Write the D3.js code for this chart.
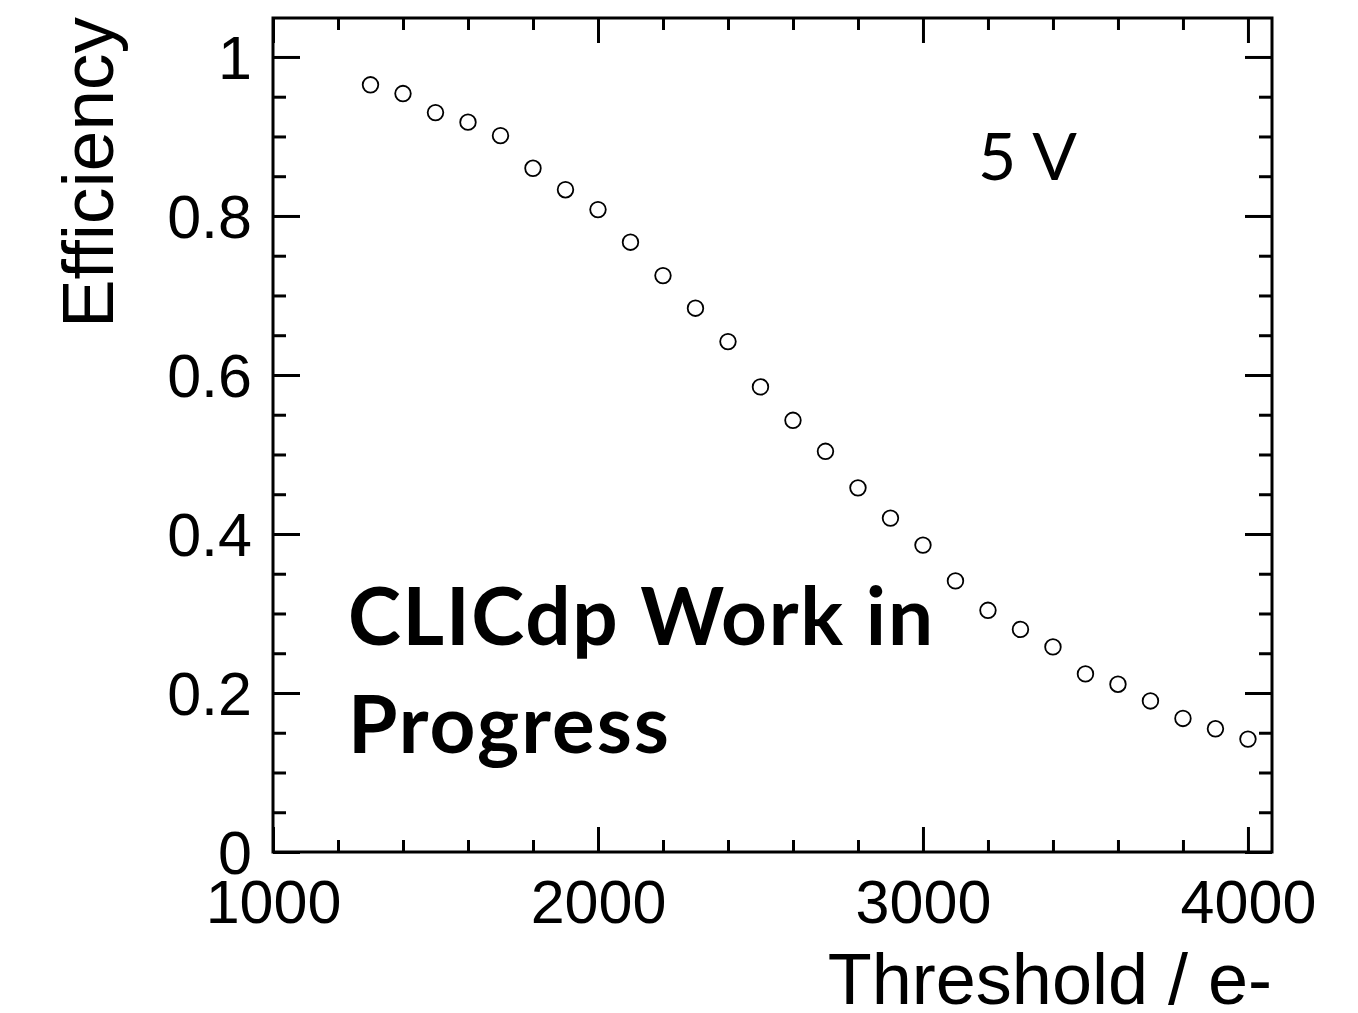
<!DOCTYPE html>
<html>
<head>
<meta charset="utf-8">
<script src="https://cdn.jsdelivr.net/npm/d3@7"></script>
<style>
  html, body { margin: 0; padding: 0; background: #fff; }
  svg { display: block; }
</style>
</head>
<body>
<svg id="chart" width="1358" height="1013"></svg>
<script>
// Threshold scan at 5 V bias: efficiency vs. threshold
const thresholds = [1300, 1400, 1500, 1600, 1700, 1800, 1900, 2000, 2100, 2200,
                    2300, 2400, 2500, 2600, 2700, 2800, 2900, 3000, 3100, 3200,
                    3300, 3400, 3500, 3600, 3700, 3800, 3900, 4000];
const efficiency = [0.965, 0.954, 0.930, 0.918, 0.901, 0.860, 0.833, 0.808, 0.767, 0.725,
                    0.684, 0.642, 0.585, 0.543, 0.504, 0.458, 0.420, 0.386, 0.341, 0.304,
                    0.280, 0.258, 0.224, 0.211, 0.190, 0.168, 0.155, 0.142];

const xMajorTicks = [1000, 2000, 3000, 4000];
const xMinorTicks = [1200, 1400, 1600, 1800, 2200, 2400, 2600, 2800, 3200, 3400, 3600, 3800];
const yMajorTicks = [0, 0.2, 0.4, 0.6, 0.8, 1];
const yTickLabels = ["0", "0.2", "0.4", "0.6", "0.8", "1"];
const yMinorTicks = [0.05, 0.1, 0.15, 0.25, 0.3, 0.35, 0.45, 0.5, 0.55, 0.65, 0.7, 0.75, 0.85, 0.9, 0.95];

const xTitle = "Threshold / e-";
const yTitle = "Efficiency";
const biasLabel = "5 V";
const statusLines = ["CLICdp Work in", "Progress"];

const frame = { left: 273, right: 1272, top: 18, bottom: 852 };
const svg = d3.select("#chart");

const x = d3.scaleLinear().domain([1000, 4074]).range([frame.left, frame.right]);
const y = d3.scaleLinear().domain([0, 1.049]).range([frame.bottom, frame.top]);

const axisFont = "'Liberation Sans', Arial, Helvetica, sans-serif";

function styleAxis(g) {
  g.select(".domain").remove();
  g.selectAll(".tick line").attr("stroke", "#000").attr("stroke-width", 3);
}

// bottom axis: major ticks with labels, minor ticks without
const gxb = svg.append("g").attr("transform", `translate(0,${frame.bottom})`)
  .call(d3.axisBottom(x).tickValues(xMajorTicks).tickSize(-25).tickFormat(d3.format("d")));
styleAxis(gxb);
gxb.selectAll(".tick text")
  .attr("y", 71).attr("dy", 0)
  .attr("font-family", axisFont).attr("font-size", 61).attr("fill", "#000");
svg.append("g").attr("transform", `translate(0,${frame.bottom})`)
  .call(d3.axisBottom(x).tickValues(xMinorTicks).tickSize(-12).tickFormat(""))
  .call(styleAxis);

// top axis mirrors the ticks
svg.append("g").attr("transform", `translate(0,${frame.top})`)
  .call(d3.axisTop(x).tickValues(xMajorTicks).tickSize(-25).tickFormat(""))
  .call(styleAxis);
svg.append("g").attr("transform", `translate(0,${frame.top})`)
  .call(d3.axisTop(x).tickValues(xMinorTicks).tickSize(-12).tickFormat(""))
  .call(styleAxis);

// left axis
const gyl = svg.append("g").attr("transform", `translate(${frame.left},0)`)
  .call(d3.axisLeft(y).tickValues(yMajorTicks).tickSize(-27)
    .tickFormat((d, i) => yTickLabels[i]));
styleAxis(gyl);
gyl.selectAll(".tick text")
  .attr("x", -21).attr("dy", "0.36em")
  .attr("font-family", axisFont).attr("font-size", 61).attr("fill", "#000");
svg.append("g").attr("transform", `translate(${frame.left},0)`)
  .call(d3.axisLeft(y).tickValues(yMinorTicks).tickSize(-13).tickFormat(""))
  .call(styleAxis);

// right axis
svg.append("g").attr("transform", `translate(${frame.right},0)`)
  .call(d3.axisRight(y).tickValues(yMajorTicks).tickSize(-27).tickFormat(""))
  .call(styleAxis);
svg.append("g").attr("transform", `translate(${frame.right},0)`)
  .call(d3.axisRight(y).tickValues(yMinorTicks).tickSize(-13).tickFormat(""))
  .call(styleAxis);

// frame
svg.append("rect")
  .attr("x", frame.left).attr("y", frame.top)
  .attr("width", frame.right - frame.left).attr("height", frame.bottom - frame.top)
  .attr("fill", "none").attr("stroke", "#000").attr("stroke-width", 3);

// data markers: open circles
svg.append("g").selectAll("circle")
  .data(thresholds.map((t, i) => [t, efficiency[i]]))
  .join("circle")
  .attr("cx", d => x(d[0]))
  .attr("cy", d => y(d[1]))
  .attr("r", 7.8)
  .attr("fill", "none")
  .attr("stroke", "#000")
  .attr("stroke-width", 1.8);

// axis titles
svg.append("text")
  .attr("x", frame.right).attr("y", 1004)
  .attr("text-anchor", "end")
  .attr("font-family", axisFont).attr("font-size", 72)
  .text(xTitle);

svg.append("text")
  .attr("transform", "translate(113,17) rotate(-90)")
  .attr("text-anchor", "end")
  .attr("font-family", axisFont).attr("font-size", 73)
  .text(yTitle);

// annotations
const labelFont = "Lato, 'Open Sans', sans-serif";
svg.append("text")
  .attr("x", 978).attr("y", 180)
  .attr("font-family", labelFont).attr("font-size", 66)
  .attr("textLength", 99).attr("lengthAdjust", "spacing")
  .text(biasLabel);

const statusWidths = [585, 321];
svg.append("g").selectAll("text")
  .data(statusLines)
  .join("text")
  .attr("x", 348)
  .attr("y", (d, i) => 645 + i * 108)
  .attr("font-family", labelFont).attr("font-weight", 700).attr("font-size", 80)
  .attr("textLength", (d, i) => statusWidths[i]).attr("lengthAdjust", "spacing")
  .text(d => d);
</script>
</body>
</html>
